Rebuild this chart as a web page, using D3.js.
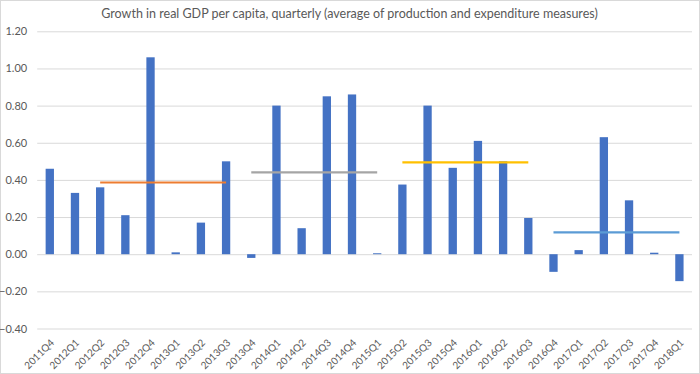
<!DOCTYPE html>
<html>
<head>
<meta charset="utf-8">
<script src="https://cdn.jsdelivr.net/npm/d3@7"></script>
<style>
  body { margin: 0; background: #fff; }
  svg { display: block; font-family: Lato, "Open Sans", sans-serif; }
</style>
</head>
<body>
<div id="chart"></div>
<script>
// quarters on the x axis
var quarters = ["2011Q4", "2012Q1", "2012Q2", "2012Q3", "2012Q4", "2013Q1", "2013Q2", "2013Q3",
    "2013Q4", "2014Q1", "2014Q2", "2014Q3", "2014Q4", "2015Q1", "2015Q2", "2015Q3", "2015Q4",
    "2016Q1", "2016Q2", "2016Q3", "2016Q4", "2017Q1", "2017Q2", "2017Q3", "2017Q4", "2018Q1"];

// quarterly growth in real GDP per capita (%)
var growth = [0.46, 0.33, 0.36, 0.21, 1.06, 0.01, 0.17, 0.50,
    -0.02, 0.80, 0.14, 0.85, 0.86, 0.005, 0.375, 0.80, 0.465,
    0.61, 0.50, 0.195, -0.095, 0.022, 0.63, 0.29, 0.008, -0.145];

// period averages (null outside each period)
var avg1 = [null, null, 0.386, 0.386, 0.386, 0.386, 0.386, 0.386,
    null, null, null, null, null, null, null, null, null,
    null, null, null, null, null, null, null, null, null];
var avg2 = [null, null, null, null, null, null, null, null,
    0.44, 0.44, 0.44, 0.44, 0.44, 0.44, null, null, null,
    null, null, null, null, null, null, null, null, null];
var avg3 = [null, null, null, null, null, null, null, null,
    null, null, null, null, null, null, 0.494, 0.494, 0.494,
    0.494, 0.494, 0.494, null, null, null, null, null, null];
var avg4 = [null, null, null, null, null, null, null, null,
    null, null, null, null, null, null, null, null, null,
    null, null, null, 0.117, 0.117, 0.117, 0.117, 0.117, 0.117];

var yTicks = [-0.4, -0.2, 0, 0.2, 0.4, 0.6, 0.8, 1.0, 1.2];

var W = 700, H = 374;
var plotL = 37.2, plotR = 692, plotT = 31.3, plotB = 328.5;

var svg = d3.select("#chart").append("svg")
    .attr("width", W)
    .attr("height", H);

// chart border
svg.append("rect")
    .attr("x", 0.5).attr("y", 0.5)
    .attr("width", W - 1).attr("height", H - 1)
    .attr("fill", "#fff")
    .attr("stroke", "#d9d9d9");

var x = d3.scaleBand().domain(quarters).range([plotL, plotR])
    .paddingInner(0.67).paddingOuter(0.335);
var y = d3.scaleLinear().domain([-0.4, 1.2]).range([plotB, plotT]);

// gridlines + y labels
var yAxis = svg.append("g")
    .attr("transform", "translate(" + plotL + ",0)")
    .call(d3.axisLeft(y).tickValues(yTicks).tickSize(-(plotR - plotL)).tickPadding(10)
        .tickFormat(d3.format(".2f")));
yAxis.select(".domain").remove();
yAxis.selectAll(".tick line").attr("stroke", "#d9d9d9");
yAxis.selectAll(".tick text")
    .attr("fill", "#595959")
    .style("font-size", "11px")
    .style("font-family", "Lato, sans-serif");

// bars
svg.append("g").selectAll("rect")
    .data(growth)
    .join("rect")
    .attr("x", function (d, i) { return x(quarters[i]); })
    .attr("width", x.bandwidth())
    .attr("y", function (d) { return y(Math.max(0, d)); })
    .attr("height", function (d) { return Math.abs(y(d) - y(0)); })
    .attr("fill", "#4472c4");

// average lines
var line = d3.line()
    .defined(function (d) { return d != null; })
    .x(function (d, i) { return x(quarters[i]) + x.bandwidth() / 2; })
    .y(function (d) { return y(d); });

[[avg1, "#ed7d31"], [avg2, "#a5a5a5"], [avg3, "#ffc000"], [avg4, "#5b9bd5"]].forEach(function (s) {
    svg.append("path")
        .datum(s[0])
        .attr("d", line)
        .attr("fill", "none")
        .attr("stroke", s[1])
        .attr("stroke-width", 2.2);
});

// x labels, rotated
var xAxis = svg.append("g")
    .attr("transform", "translate(0," + plotB + ")")
    .call(d3.axisBottom(x).tickSize(0));
xAxis.select(".domain").remove();
xAxis.selectAll(".tick text")
    .attr("x", 0).attr("y", 0).attr("dy", null)
    .attr("text-anchor", "end")
    .attr("transform", "translate(5,15) rotate(-45)")
    .attr("fill", "#595959")
    .style("font-size", "10px")
    .style("font-family", "Lato, sans-serif");

// title
svg.append("text")
    .attr("x", 349.5)
    .attr("y", 18)
    .attr("text-anchor", "middle")
    .attr("fill", "#595959")
    .style("font-size", "12.5px")
    .text("Growth in real GDP per capita, quarterly (average of production and expenditure measures)");
</script>
</body>
</html>
